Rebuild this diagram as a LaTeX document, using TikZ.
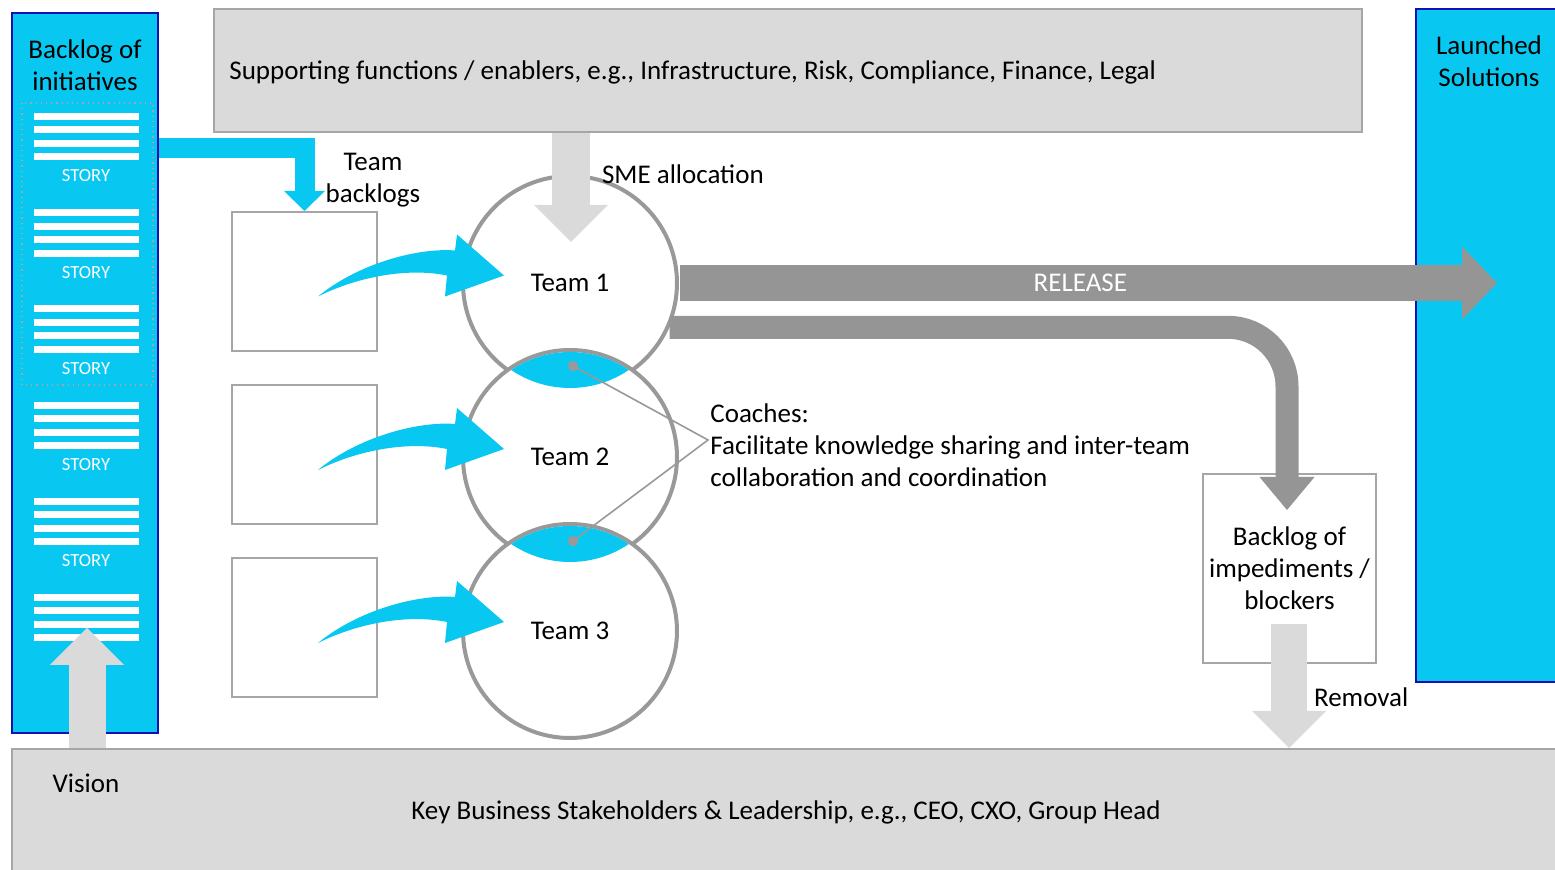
\documentclass[tikz,border=0pt]{standalone}
\usepackage{fontspec}
\setmainfont{Carlito}
\usetikzlibrary{arrows.meta,positioning}
\definecolor{sky}{HTML}{08C8F2}
\definecolor{skyedge}{HTML}{1010B0}
\definecolor{panel}{HTML}{DADADA}
\definecolor{paneledge}{HTML}{A6A6A6}
\definecolor{flow}{HTML}{959595}
\definecolor{ring}{HTML}{999999}

\begin{document}
\begin{tikzpicture}[x=0.5pt, y=-0.5pt,
    font=\fontsize{13.5}{16}\selectfont,
    column/.style={draw=skyedge, fill=sky, line width=0.8pt, minimum width=73pt},
    panelbox/.style={draw=paneledge, fill=panel, line width=1pt},
    tbox/.style={draw=paneledge, fill=white, line width=1pt,
                 minimum width=72.5pt, minimum height=69.5pt},
    team/.style={circle, draw=ring, fill=white, line width=2pt,
                 minimum size=107pt, inner sep=0pt},
    lightarr/.style={draw=panel, line width=18.5pt,
                     -{Triangle[width=37pt, length=18.5pt, line width=0pt]}},
    flowarr/.style={draw=flow, line width=18pt,
                    -{Triangle[width=36.5pt, length=17.5pt, line width=0pt]}},
    bluearr/.style={draw=sky, line width=10pt,
                    -{Triangle[width=20.5pt, length=10pt, line width=0pt]}},
    story/.style={font=\fontsize{9.3}{11}\selectfont, text=white},
    txt/.style={align=center, inner sep=1pt}
  ]
  \useasboundingbox (0,0) rectangle (1555,870);
  % --- panels top and bottom ---
  \node[panelbox, minimum width=574pt, minimum height=61.5pt] (sup) at (788,70.5) {};
  \node[anchor=west, inner sep=0pt] (suplbl) at (229,72)
    {Supporting functions / enablers, e.g., Infrastructure, Risk, Compliance, Finance, Legal};
  \node[panelbox, minimum width=774pt, minimum height=63pt] (key) at (786,812)
    {Key Business Stakeholders \& Leadership, e.g., CEO, CXO, Group Head};
  % --- blue columns ---
  \node[column, minimum height=360pt] (init) at (85,373) {};
  \node[column, minimum width=72pt, minimum height=336.5pt] (launch) at (1488,345.5) {};
  \node[txt] (initlbl) at (85,65) {Backlog of\\initiatives};
  \node[txt] (launchlbl) at (1489,61) {Launched\\Solutions};
  \draw[paneledge, dotted, line width=0.6pt] (22,103) rectangle (153,385);
  \foreach \g in {0,...,5}
    \foreach \b in {0,13.5,27,40.5}
      \fill[white] (34,113+96.2*\g+\b) rectangle ++(105,7);
  \foreach \g in {0,...,4}
    \node[story] (story\g) at (86,176+96.2*\g) {STORY};
  % --- team backlogs ---
  \node[tbox] (tb1) at (304.5,281.5) {};
  \node[tbox] (tb2) at (304.5,455) {};
  \node[tbox] (tb3) at (304.5,628) {};
  \node[txt] (tblbl) at (373,180) {Team\\backlogs};
  % --- teams ---
  \node[team] (t1) at (570,283) {Team 1};
  \node[team] (t2) at (570,457) {Team 2};
  \node[team] (t3) at (570,631) {Team 3};
  \begin{scope}
    \clip (t1.center) circle[radius=52.5pt];
    \fill[sky] (t2.center) circle[radius=52.5pt];
  \end{scope}
  \begin{scope}
    \clip (t2.center) circle[radius=52.5pt];
    \fill[sky] (t3.center) circle[radius=52.5pt];
  \end{scope}
  % --- coaches ---
  \coordinate (c12) at (573,366);
  \coordinate (c23) at (573,541);
  \node[anchor=west, align=left, inner sep=1pt] (coach) at (708,445)
    {Coaches:\\Facilitate knowledge sharing and inter-team\\collaboration and coordination};
  \draw[ring, line width=0.8pt] (c12) -- ([yshift=2.5pt]coach.west) -- (c23);
  \fill[ring] (c12) circle[radius=2.6pt];
  \fill[ring] (c23) circle[radius=2.6pt];
  % --- impediments ---
  \node[tbox, minimum width=86.5pt, minimum height=94.5pt, txt] (imp) at (1289.5,568.5)
    {Backlog of\\impediments /\\blockers};
  % --- release flows ---
  \coordinate (relend) at (1497,283);
  \draw[flowarr] ([xshift=0.5pt]t1.east) -- (relend)
    node[pos=0.49, text=white] {RELEASE};
  \coordinate (impin) at (1287,510);
  \draw[flow, line width=11.5pt, rounded corners=29.5pt,
        -{Triangle[width=27.5pt, length=16.5pt, line width=0pt]}]
    (t1.-24) -| (impin);
  % --- grey inputs ---
  \coordinate (visend) at (87,628);
  \draw[lightarr] (key.north -| visend) -- (visend);
  \node (vislbl) at (86,783) {Vision};
  \coordinate (smeend) at (571,242);
  \draw[lightarr, line width=19pt] (sup.south -| smeend) -- (smeend);
  \node[anchor=west] (smelbl) at (595,174) {SME allocation};
  \coordinate (remstart) at (1289,624);
  \draw[lightarr, line width=18pt] (remstart) -- (key.north -| remstart);
  \node[anchor=west] (remlbl) at (1307,697) {Removal};
  % --- blue pulls ---
  \draw[bluearr] (init.east |- 0,148) -| (tb1.north);
  \foreach \i in {1,2,3}
    \fill[sky, shift={(tb\i.center)}] (13.5,15)
      .. controls (53.5,-18) and (113.5,-34) .. (150.5,-31)
      -- (152.5,-47) -- (199.5,-6) -- (140.5,15) -- (142.5,-6)
      .. controls (103.5,-14) and (53.5,-5) .. cycle;
\end{tikzpicture}
\end{document}
